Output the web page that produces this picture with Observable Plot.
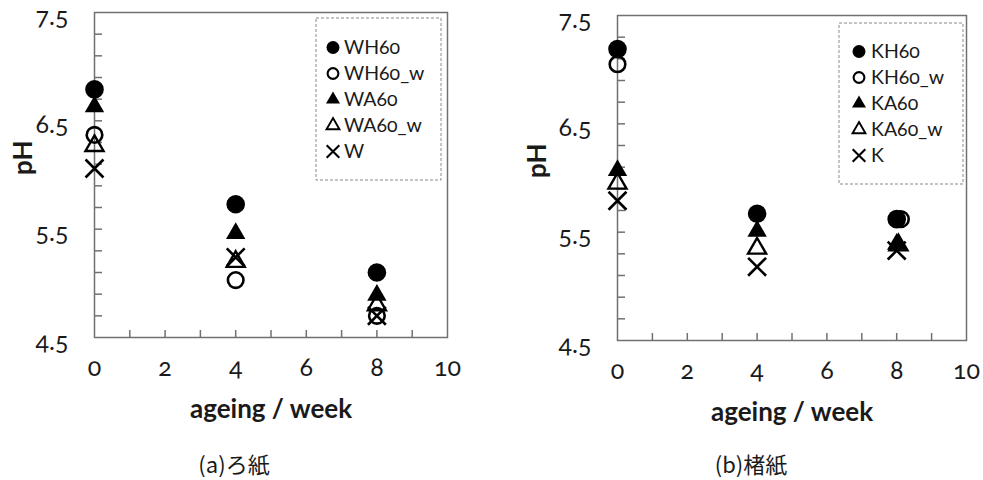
<!DOCTYPE html>
<html>
<head>
<meta charset="utf-8">
<script src="https://cdn.jsdelivr.net/npm/d3@7"></script>
<script src="https://cdn.jsdelivr.net/npm/@observablehq/plot@0.6"></script>
<style>
  html, body { margin: 0; padding: 0; background: #fff; }
  #root { position: relative; width: 983px; height: 480px; overflow: hidden; font-family: Lato, "Open Sans", sans-serif; }
  .panel { position: absolute; top: 0; }
  .legend { position: absolute; }
  .caption { position: absolute; top: 451px; line-height: 24px; font-family: "Noto Sans CJK JP", sans-serif; font-size: 22px; color: #1a1a1a; white-space: nowrap; transform: translateX(-50%); }
  svg text { font-variant-numeric: oldstyle-nums; }
</style>
</head>
<body>
<div id="root"></div>
<script>
// ---- data ----
const weeks = [0, 4, 8];
const xTickLabels = [0, 2, 4, 6, 8, 10];
const yTickLabels = [4.5, 5.5, 6.5, 7.5];
const yMinorTicks = [4.7, 4.9, 5.1, 5.3, 5.5, 5.7, 5.9, 6.1, 6.3, 6.5, 6.7, 6.9, 7.1, 7.3];
const xMinorTicks = [1, 2, 3, 4, 5, 6, 7, 8, 9];

// (a) ろ紙
const seriesA = ["WH60", "WH60_w", "WA60", "WA60_w", "W"];
const WH60   = [6.79, 5.73, 5.10];
const WH60_w = [6.37, 5.03, 4.70];
const WA60   = [6.63, 5.46, 4.89];
const WA60_w = [6.27, 5.20, 4.80];
const W      = [6.06, 5.24, 4.70];
const valuesA = [WH60, WH60_w, WA60, WA60_w, W];
const weeksA = [weeks, weeks, weeks, weeks, weeks];

// (b) 楮紙
const seriesB = ["KH60", "KH60_w", "KA60", "KA60_w", "K"];
const KH60   = [7.19, 5.67, 5.62];
const KH60_w = [7.05, null, 5.62];
const KA60   = [6.07, 5.51, 5.39];
const KA60_w = [5.95, 5.35, 5.38];
const K      = [5.79, 5.18, 5.33];
const valuesB = [KH60, KH60_w, KA60, KA60_w, K];
const weeksKH60w = [0, 4, 8.12];
const weeksKA60w = [0, 4, 8.05];
const weeksB = [weeks, weeksKH60w, weeks, weeksKA60w, weeks];

const captions = ["(a)ろ紙", "(b)楮紙"];
const xLabel = "ageing / week";
const yLabel = "pH";

// ---- styles per series index ----
const markStyle = [
  {symbol: "circle",   fill: "black", stroke: "none", r: 9.3},
  {symbol: "circle",   fill: "none", stroke: "black", strokeWidth: 2.6, r: 7.8},
  {symbol: "triangle", fill: "black", stroke: "none", r: 7.2},
  {symbol: "triangle", fill: "none", stroke: "black", strokeWidth: 2.4, r: 6.7},
  {symbol: "times",    fill: "none", stroke: "black", strokeWidth: 2.6, r: 8.2}
];
const legendStyle = [
  {symbol: "circle",   fill: "black", stroke: "none", r: 6.5},
  {symbol: "circle",   fill: "none", stroke: "black", strokeWidth: 2.1, r: 5.4},
  {symbol: "triangle", fill: "black", stroke: "none", r: 5.2},
  {symbol: "triangle", fill: "none", stroke: "black", strokeWidth: 1.9, r: 4.8},
  {symbol: "times",    fill: "none", stroke: "black", strokeWidth: 2.1, r: 5.8}
];

const root = document.getElementById("root");
const txt = "#1a1a1a";

function panel(cfg) {
  const {left, width, height, ml, mr, mt, mb, series, values, xs, yLabelDx} = cfg;
  const plotW = width - ml - mr;
  const plotH = height - mt - mb;
  const marks = [
    Plot.frame({stroke: "#707070", strokeWidth: 1.5}),
    Plot.tickY(yMinorTicks, {y: d => d, insetRight: plotW - 8, stroke: "#707070", strokeWidth: 1.5}),
    Plot.tickX(xMinorTicks, {x: d => d, insetTop: plotH - 7, stroke: "#707070", strokeWidth: 1.5}),
    Plot.text(yTickLabels, {y: d => d, text: d => d.toFixed(1), frameAnchor: "left", dx: -26, dy: 4, textAnchor: "end", fontSize: 25, fill: txt}),
    Plot.text(xTickLabels, {x: d => d, text: d => String(d), frameAnchor: "bottom", dy: 38, fontSize: 25, fill: txt}),
    Plot.text([xLabel], {text: d => d, frameAnchor: "bottom", dy: 80, fontSize: 26, fontWeight: "bold", fill: txt}),
    Plot.text([yLabel], {text: d => d, frameAnchor: "left", dx: yLabelDx, rotate: -90, fontSize: 26, fontWeight: "bold", fill: txt})
  ];
  series.forEach((name, i) => {
    const vals = values[i];
    const data = vals.map((v, j) => ({x: xs[i][j], y: v})).filter(d => d.y != null);
    marks.push(Plot.dot(data, {x: "x", y: "y", ...markStyle[i]}));
  });
  const svg = Plot.plot({
    width, height,
    marginLeft: ml, marginRight: mr, marginTop: mt, marginBottom: mb,
    x: {domain: [0, 10], axis: null},
    y: {domain: [4.5, 7.5], axis: null},
    style: {fontFamily: "Lato, 'Open Sans', sans-serif", background: "transparent", overflow: "visible"},
    marks
  });
  const div = document.createElement("div");
  div.className = "panel";
  div.style.left = left + "px";
  div.appendChild(svg);
  root.appendChild(div);
}

function legend(cfg) {
  const {left, top, width, height, series, symX, textX} = cfg;
  const marks = [
    Plot.frame({stroke: "#888", strokeWidth: 1, strokeDasharray: "3,2"})
  ];
  series.forEach((name, i) => {
    marks.push(Plot.dot([name], {y: d => d, frameAnchor: "left", dx: symX, ...legendStyle[i]}));
  });
  marks.push(Plot.text(series, {y: d => d, text: d => d, frameAnchor: "left", dx: textX, textAnchor: "start", fontSize: 19.5, fill: txt}));
  const svg = Plot.plot({
    width, height,
    margin: 0, marginTop: 0.5, marginLeft: 0.5, marginRight: 0.5, marginBottom: 0.5,
    y: {type: "point", domain: series, range: [16, height - 16], axis: null},
    style: {fontFamily: "Lato, 'Open Sans', sans-serif", background: "white", overflow: "visible"},
    marks
  });
  const div = document.createElement("div");
  div.className = "legend";
  div.style.left = left + "px";
  div.style.top = top + "px";
  div.appendChild(svg);
  root.appendChild(div);
}

panel({left: 0, width: 490, height: 440, ml: 94, mr: 43, mt: 12, mb: 103, series: seriesA, values: valuesA, xs: weeksA, yLabelDx: -71});
panel({left: 490, width: 493, height: 440, ml: 127, mr: 17, mt: 15, mb: 100, series: seriesB, values: valuesB, xs: weeksB, yLabelDx: -80});
legend({left: 315, top: 17, width: 126, height: 163, series: seriesA, symX: 17, textX: 28});
legend({left: 838, top: 22, width: 125, height: 162, series: seriesB, symX: 20, textX: 32});

[[234, captions[0]], [751, captions[1]]].forEach(([cx, t]) => {
  const c = document.createElement("div");
  c.className = "caption";
  c.style.left = cx + "px";
  c.textContent = t;
  root.appendChild(c);
});
</script>
</body>
</html>
